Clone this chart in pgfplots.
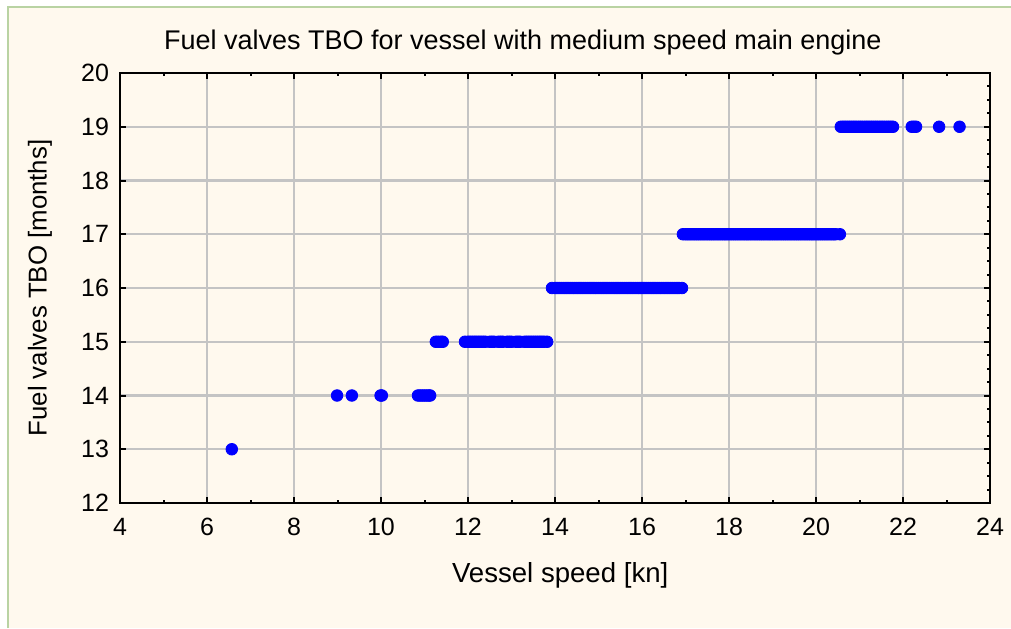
\documentclass[border=0pt]{standalone}
\usepackage{pgfplots}
\pgfplotsset{compat=1.18}
\usepackage{fontspec}
\setmainfont{Liberation Sans}
\definecolor{cream}{HTML}{FFF9EE}
\definecolor{frame}{HTML}{B9D3A3}
\definecolor{gridc}{HTML}{C4C4C4}
\definecolor{dotblue}{HTML}{0000FF}
\pgfplotstableread{
x y
6.57 13
8.99 14
9.33 14
9.99 14
10.02 14
10.85 14
10.90 14
10.95 14
11.00 14
11.05 14
11.10 14
11.13 14
11.26 15
11.32 15
11.38 15
11.42 15
11.93 15
12.00 15
12.05 15
12.10 15
12.15 15
12.20 15
12.25 15
12.30 15
12.35 15
12.40 15
12.50 15
12.55 15
12.60 15
12.70 15
12.75 15
12.80 15
12.90 15
12.95 15
13.00 15
13.10 15
13.15 15
13.20 15
13.30 15
13.35 15
13.40 15
13.45 15
13.50 15
13.55 15
13.60 15
13.65 15
13.70 15
13.75 15
13.82 15
13.93 16
14.00 16
14.05 16
14.10 16
14.15 16
14.20 16
14.25 16
14.30 16
14.35 16
14.40 16
14.45 16
14.50 16
14.55 16
14.60 16
14.65 16
14.70 16
14.75 16
14.80 16
14.85 16
14.90 16
14.95 16
15.00 16
15.05 16
15.10 16
15.15 16
15.20 16
15.25 16
15.30 16
15.35 16
15.40 16
15.45 16
15.50 16
15.55 16
15.60 16
15.65 16
15.70 16
15.75 16
15.80 16
15.85 16
15.90 16
15.95 16
16.00 16
16.05 16
16.10 16
16.15 16
16.20 16
16.25 16
16.30 16
16.35 16
16.40 16
16.45 16
16.50 16
16.55 16
16.60 16
16.65 16
16.70 16
16.75 16
16.80 16
16.85 16
16.92 16
16.94 17
17.00 17
17.05 17
17.10 17
17.15 17
17.20 17
17.25 17
17.30 17
17.35 17
17.40 17
17.45 17
17.50 17
17.55 17
17.60 17
17.65 17
17.70 17
17.75 17
17.80 17
17.85 17
17.90 17
17.95 17
18.00 17
18.05 17
18.10 17
18.15 17
18.20 17
18.25 17
18.30 17
18.35 17
18.40 17
18.45 17
18.50 17
18.55 17
18.60 17
18.65 17
18.70 17
18.75 17
18.80 17
18.85 17
18.90 17
18.95 17
19.00 17
19.05 17
19.10 17
19.15 17
19.20 17
19.25 17
19.30 17
19.35 17
19.40 17
19.45 17
19.50 17
19.55 17
19.60 17
19.65 17
19.70 17
19.75 17
19.80 17
19.85 17
19.90 17
19.95 17
20.00 17
20.05 17
20.10 17
20.15 17
20.20 17
20.25 17
20.30 17
20.35 17
20.40 17
20.45 17
20.55 17
20.57 19
20.62 19
20.67 19
20.72 19
20.77 19
20.82 19
20.87 19
20.92 19
20.97 19
21.02 19
21.07 19
21.12 19
21.17 19
21.22 19
21.27 19
21.32 19
21.37 19
21.42 19
21.47 19
21.52 19
21.57 19
21.62 19
21.67 19
21.72 19
21.77 19
22.20 19
22.25 19
22.30 19
22.83 19
23.30 19
}\datatable
\begin{document}
\begin{tikzpicture}
\path[use as bounding box, fill=white] (0,0) rectangle (505.5pt,314pt);
\fill[cream] (4pt,0) rectangle (505.5pt,310.5pt);
\draw[frame, line width=0.8pt] (4pt,0) -- (4pt,310.5pt) -- (505.5pt,310.5pt);
\begin{axis}[
  at={(60pt,62.5pt)}, anchor=south west,
  scale only axis, width=435pt, height=215pt,
  xmin=4, xmax=24, ymin=12, ymax=20,
  xtick={4,6,...,24}, ytick={12,...,20},
  minor x tick num=1,
  ytick pos=left,
  tick align=inside,
  major tick length=3pt, minor tick length=1.5pt,
  every tick/.style={black, line width=1pt},
  grid=major,
  major grid style={gridc, line width=1.1pt},
  axis line style={black, line width=1.3pt},
  axis background/.style={fill=cream},
  ticklabel style={font=\fontsize{12.5}{14}\selectfont},
  /pgf/number format/assume math mode=true,
  xticklabel style={yshift=-4pt},
  yticklabel style={xshift=-2pt},
  title={Fuel valves TBO for vessel with medium speed main engine},
  title style={at={(0.463,1)}, anchor=center, yshift=9pt, font=\fontsize{13.5}{15}\selectfont},
  xlabel={Vessel speed [kn]},
  xlabel style={at={(0.506,0)}, anchor=center, yshift=-36pt, font=\fontsize{13.8}{15}\selectfont},
  ylabel={Fuel valves TBO [months]},
  ylabel style={at={(0,0.5)}, anchor=center, yshift=40pt, font=\fontsize{12.9}{14}\selectfont},
]
\addplot[only marks, mark=*, mark size=2.9pt, dotblue, mark options={draw=dotblue, fill=dotblue}] table[x=x, y=y] {\datatable};
\end{axis}
\begin{axis}[
  at={(60pt,62.5pt)}, anchor=south west,
  scale only axis, width=435pt, height=215pt,
  xmin=4, xmax=24, ymin=12, ymax=20,
  axis x line=none, axis y line*=right,
  ytick={12,...,20}, yticklabels={},
  minor y tick num=3,
  tick align=inside,
  major tick length=3pt, minor tick length=1.5pt,
  every tick/.style={black, line width=1pt},
  axis line style={black, line width=1.3pt},
]
\addplot[draw=none] coordinates {(4,12)};
\end{axis}
\end{tikzpicture}
\end{document}
